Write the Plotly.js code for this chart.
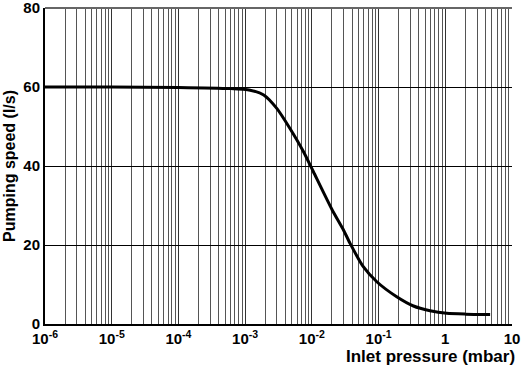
<!DOCTYPE html>
<html>
<head>
<meta charset="utf-8">
<script src="https://cdn.plot.ly/plotly-3.0.1.min.js"></script>
<style>html,body{margin:0;padding:0;background:#fff;}#chart{width:526px;height:369px;}</style>
</head>
<body>
<div id="chart"></div>
<script>
const pressure = [1e-6, 1e-5, 1e-4, 6e-4, 1.19e-3, 1.9e-3, 2.98e-3, 4.7e-3, 7.5e-3, 1.05e-2, 2e-2, 2.98e-2, 3.74e-2, 5.9e-2, 9.4e-2, 0.187, 0.333, 0.59, 1.05, 2, 4.7];
const speed = [60, 60, 59.9, 59.6, 59.2, 58.0, 54.6, 49.5, 43.6, 38.6, 29, 23.8, 20.4, 14.5, 10.7, 6.9, 4.56, 3.37, 2.7, 2.5, 2.4];
const xTickVals = [1e-6, 1e-5, 1e-4, 1e-3, 1e-2, 1e-1, 1, 10];
const xTickText = ['10<sup>-6</sup>', '10<sup>-5</sup>', '10<sup>-4</sup>', '10<sup>-3</sup>', '10<sup>-2</sup>', '10<sup>-1</sup>', '1', '10'];
const yTickVals = [0, 20, 40, 60, 80];

const minorVals = [];
for (let e = -6; e < 1; e++) {
  for (let m = 2; m <= 9; m++) minorVals.push(m * Math.pow(10, e));
}

const font = {family: 'Liberation Sans, Arial, sans-serif', color: '#000'};

Plotly.newPlot('chart', [{
  x: pressure, y: speed, type: 'scatter', mode: 'lines',
  line: {color: '#000', width: 3, shape: 'spline', smoothing: 0.6},
  hoverinfo: 'skip'
}], {
  width: 526, height: 369,
  margin: {l: 45, r: 14, t: 8, b: 45},
  paper_bgcolor: '#fff', plot_bgcolor: '#fff',
  showlegend: false,
  xaxis: {
    type: 'log', range: [-6, 1],
    tickmode: 'array', tickvals: xTickVals, ticktext: xTickText,
    tickfont: Object.assign({size: 15, weight: 'bold'}, font),
    showgrid: true, gridcolor: '#333', gridwidth: 1,
    minor: {tickmode: 'array', tickvals: minorVals, showgrid: true, gridcolor: '#555', gridwidth: 1, ticks: ''},
    ticks: '', showline: true, linecolor: '#000', linewidth: 2, mirror: false,
    zeroline: false, fixedrange: true, ticklabeloverflow: 'allow'
  },
  yaxis: {
    range: [0, 80], tickmode: 'array', tickvals: yTickVals,
    tickfont: Object.assign({size: 15, weight: 'bold'}, font),
    showgrid: true, gridcolor: '#000', gridwidth: 1,
    ticks: '', showline: true, linecolor: '#000', linewidth: 2,
    zeroline: false, fixedrange: true, ticklabeloverflow: 'allow',
    title: {text: 'Pumping speed (l/s)', font: Object.assign({size: 16, weight: 'bold'}, font), standoff: 4}
  },
  shapes: [
    {type: 'line', xref: 'paper', yref: 'paper', x0: 0, x1: 1, y0: 1, y1: 1, line: {color: '#666', width: 2}}
  ],
  annotations: [{
    text: 'Inlet pressure (mbar)', xref: 'paper', yref: 'paper', x: 1.01, y: 0,
    xanchor: 'right', yanchor: 'top', yshift: -21, showarrow: false,
    font: Object.assign({size: 17, weight: 'bold'}, font)
  }]
}, {staticPlot: true});
</script>
</body>
</html>
